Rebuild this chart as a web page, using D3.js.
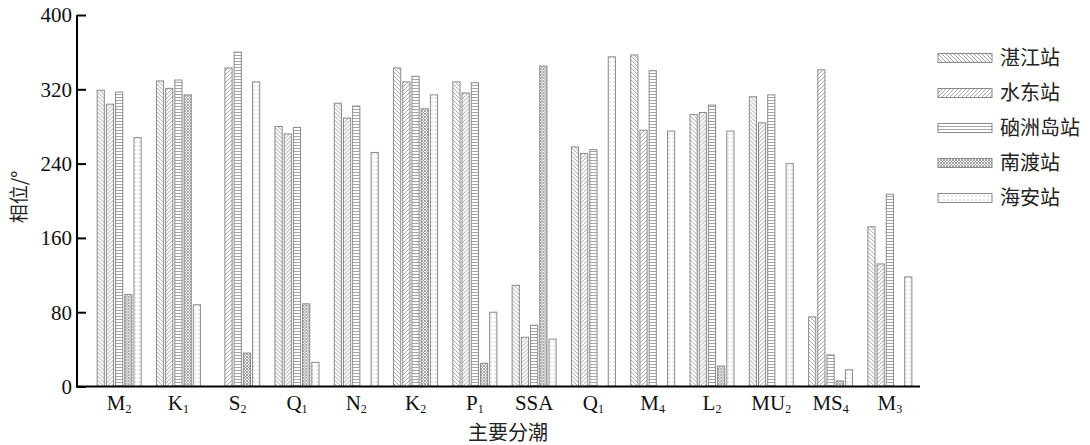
<!DOCTYPE html>
<html>
<head>
<meta charset="utf-8">
<script src="https://cdn.jsdelivr.net/npm/d3@7"></script>
<style>
  body { margin: 0; background: #fff; }
  svg { display: block; }
</style>
</head>
<body>
<svg id="chart" width="1090" height="445"></svg>
<script>
// tidal constituents (label base + subscript)
const tideNames = ['M', 'K', 'S', 'Q', 'N', 'K', 'P', 'SSA', 'Q', 'M', 'L', 'MU', 'MS', 'M'];
const tideSubs  = ['2', '1', '2', '1', '2', '2', '1', '',    '1', '4', '2', '2',  '4',  '3'];

const stations = ['湛江站', '水东站', '硇洲岛站', '南渡站', '海安站'];

// phase (deg), null = no bar
const zhanjiang = [319, 329, null, 280, 305, 343, 328, 109, 258, 357, 293, 312, 75, 172];
const shuidong  = [304, 321, 343, 272, 289, 328, 316, 53, 251, 276, 295, 284, 341, 132];
const naozhou   = [317, 330, 360, 279, 302, 334, 327, 66, 255, 340, 303, 314, 34, 207];
const nandu     = [99, 314, 36, 89, null, 299, 25, 345, null, null, 22, null, 6, null];
const haian     = [268, 88, 328, 26, 252, 314, 80, 51, 355, 275, 275, 240, 18, 118];

const yTicks = [0, 80, 160, 240, 320, 400];

const series = [zhanjiang, shuidong, naozhou, nandu, haian];
const patIds = ['p-back', 'p-fwd', 'p-horiz', 'p-cross', 'p-dots'];

const svg = d3.select('#chart');
const defs = svg.append('defs');

// hatch patterns
function pat(id, w, h) {
    return defs.append('pattern').attr('id', id)
        .attr('patternUnits', 'userSpaceOnUse')
        .attr('width', w).attr('height', h);
}
const hatch = '#9a9a9a';
let p = pat('p-back', 4, 4);
p.append('rect').attr('width', 4).attr('height', 4).attr('fill', '#fff');
p.append('path').attr('d', 'M-1,-1 L5,5 M-1,3 L1,5 M3,-1 L5,1').attr('stroke', hatch).attr('stroke-width', 0.9);
p = pat('p-fwd', 4, 4);
p.append('rect').attr('width', 4).attr('height', 4).attr('fill', '#fff');
p.append('path').attr('d', 'M-1,5 L5,-1 M-1,1 L1,-1 M3,5 L5,3').attr('stroke', hatch).attr('stroke-width', 0.9);
p = pat('p-horiz', 4, 3);
p.append('rect').attr('width', 4).attr('height', 3).attr('fill', '#fff');
p.append('path').attr('d', 'M0,1.5 L4,1.5').attr('stroke', hatch).attr('stroke-width', 0.9);
p = pat('p-cross', 3, 3);
p.append('rect').attr('width', 3).attr('height', 3).attr('fill', '#fff');
p.append('path').attr('d', 'M0,0 L3,3 M0,3 L3,0').attr('stroke', '#888').attr('stroke-width', 0.8);
p = pat('p-dots', 4, 4);
p.append('rect').attr('width', 4).attr('height', 4).attr('fill', '#fff');
p.append('rect').attr('x', 1.5).attr('y', 1.5).attr('width', 1).attr('height', 1).attr('fill', '#999');

const x0 = d3.scaleBand()
    .domain(d3.range(tideNames.length))
    .range([89.5, 919.5])
    .paddingInner(0).paddingOuter(0);

const x1 = d3.scaleBand()
    .domain(d3.range(stations.length))
    .range([x0.bandwidth() / 2 - 22.5, x0.bandwidth() / 2 + 22.5])
    .paddingInner(1 / 9).paddingOuter(0);

const y = d3.scaleLinear().domain([0, 400]).range([386.5, 15]);

// bars
const groups = svg.append('g').selectAll('g')
    .data(tideNames.map((n, i) => i))
    .join('g')
    .attr('transform', i => `translate(${x0(i)},0)`);

groups.selectAll('rect')
    .data(i => series.map((s, k) => ({ k, v: s[i] })).filter(d => d.v != null))
    .join('rect')
    .attr('x', d => x1(d.k) + 0.5)
    .attr('y', d => y(d.v))
    .attr('width', x1.bandwidth() - 1)
    .attr('height', d => y(0) - y(d.v))
    .attr('fill', d => `url(#${patIds[d.k]})`)
    .attr('stroke', '#8a8a8a')
    .attr('stroke-width', 1);

// y axis
const yAxis = svg.append('g')
    .attr('transform', 'translate(77,0)')
    .call(d3.axisRight(y).tickValues(yTicks).tickSize(9).tickFormat(''));
yAxis.select('.domain').attr('stroke-width', 2).attr('d', 'M0,15 V387.5');
yAxis.selectAll('.tick line').attr('stroke-width', 2);

svg.append('g').selectAll('text')
    .data(yTicks)
    .join('text')
    .attr('x', 72)
    .attr('y', d => y(d))
    .attr('dy', '0.35em')
    .attr('text-anchor', 'end')
    .attr('font-family', 'Liberation Serif, serif')
    .attr('font-size', 21)
    .attr('fill', '#111')
    .text(d => d);

// x axis line
svg.append('line')
    .attr('x1', 76).attr('x2', 920)
    .attr('y1', 386.5).attr('y2', 386.5)
    .attr('stroke', '#000').attr('stroke-width', 2);

// x labels with subscripts
const xl = svg.append('g').selectAll('text')
    .data(tideNames.map((n, i) => i))
    .join('text')
    .attr('x', i => x0(i) + x0.bandwidth() / 2)
    .attr('y', 410)
    .attr('text-anchor', 'middle')
    .attr('font-family', 'Liberation Serif, serif')
    .attr('font-size', 21)
    .attr('fill', '#111');
xl.append('tspan').text(i => tideNames[i]);
xl.append('tspan')
    .attr('font-size', 12)
    .attr('dy', 3)
    .text(i => tideSubs[i]);

// axis titles
svg.append('text')
    .attr('transform', 'translate(26,197) rotate(-90)')
    .attr('text-anchor', 'middle')
    .attr('font-family', 'Noto Sans CJK SC, sans-serif')
    .attr('font-size', 19)
    .attr('fill', '#222')
    .text('相位/°');

svg.append('text')
    .attr('x', 508)
    .attr('y', 440)
    .attr('text-anchor', 'middle')
    .attr('font-family', 'Noto Sans CJK SC, sans-serif')
    .attr('font-size', 20)
    .attr('fill', '#222')
    .text('主要分潮');

// legend
const lg = svg.append('g').selectAll('g')
    .data(stations)
    .join('g')
    .attr('transform', (d, i) => `translate(938,${58 + i * 35})`);
lg.append('rect')
    .attr('x', 0).attr('y', -4.5)
    .attr('width', 54).attr('height', 9)
    .attr('fill', (d, i) => `url(#${patIds[i]})`)
    .attr('stroke', '#8a8a8a');
lg.append('text')
    .attr('x', 62)
    .attr('y', 0)
    .attr('dy', '0.36em')
    .attr('font-family', 'Noto Sans CJK SC, sans-serif')
    .attr('font-size', 20)
    .attr('fill', '#222')
    .text(d => d);
</script>
</body>
</html>
